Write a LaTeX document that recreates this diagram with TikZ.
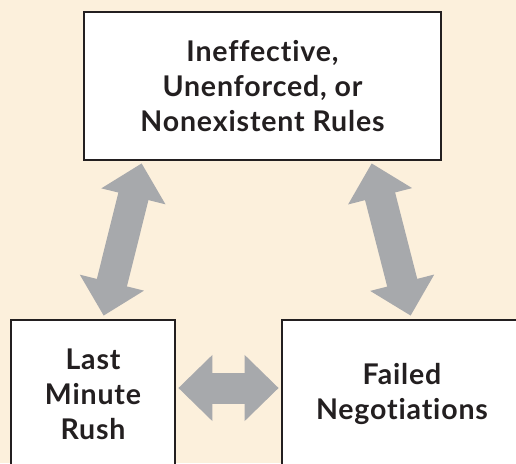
\documentclass[tikz,border=0pt]{standalone}
\usepackage{fontspec}
\setmainfont{Lato}[Ligatures=NoCommon, LetterSpace=3]
\usetikzlibrary{arrows.meta,calc}
\definecolor{bg}{HTML}{FCF0DC}
\definecolor{arrowgray}{HTML}{A7A9AC}
\definecolor{ink}{HTML}{231F20}
\tikzset{
  box/.style={draw=ink, line width=2.7pt, fill=white, rectangle, inner sep=0pt,
    align=center, text=ink, font=\bfseries\fontsize{28.5}{35}\selectfont},
  bigarrow/.style={draw=arrowgray, line width=31pt,
    {Triangle[length=34pt,width=64pt]}-{Triangle[length=34pt,width=64pt]}}
}
\begin{document}
\begin{tikzpicture}[x=1pt,y=-1pt]
\useasboundingbox (0,0) rectangle (516,463);
\clip (0,0) rectangle (516,463);
\fill[bg] (0,0) rectangle (516,463);
\node[box, minimum width=357pt, minimum height=148pt] (top) at (262.5,86)
  {Ineffective,\\Unenforced, or\\Nonexistent Rules};
\node[box, minimum width=164pt, minimum height=148pt] (left) at (93,394)
  {Last\\Minute\\Rush};
\node[box, minimum width=240pt, minimum height=148pt] (right) at (402,394)
  {Failed\\Negotiations};
\coordinate (lt) at ($(top.south west)+(59,2)$);
\coordinate (lb) at ($(left.north west)+(94,-3)$);
\coordinate (rt) at ($(top.south west)+(289,2)$);
\coordinate (rb) at ($(right.north west)+(130,-3)$);
\coordinate (hl) at ($(left.east)+(2,-6)$);
\coordinate (hr) at ($(right.west)+(-2,-6)$);
\draw[bigarrow] (lb) -- (lt);
\draw[bigarrow] (rb) -- (rt);
\draw[bigarrow] (hl) -- (hr);
\end{tikzpicture}
\end{document}
